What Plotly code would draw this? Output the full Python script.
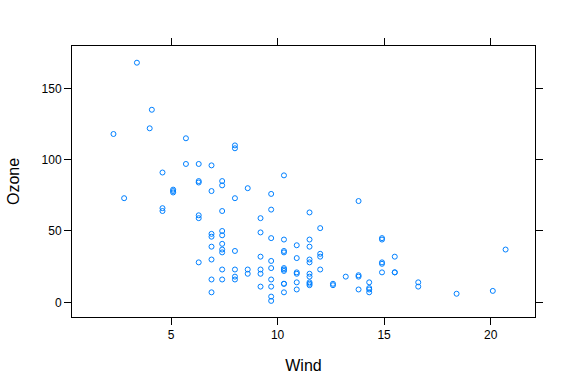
import plotly.graph_objects as go

# airquality (rows with non-missing Ozone)
wind = [7.4, 8.0, 12.6, 11.5, 14.9, 8.6, 13.8, 20.1, 6.9, 9.7, 9.2, 10.9, 13.2, 11.5,
        12.0, 18.4, 11.5, 9.7, 9.7, 16.6, 9.7, 12.0, 12.0, 14.9, 5.7, 7.4, 9.7, 13.8,
        11.5, 8.0, 14.9, 20.7, 9.2, 11.5, 10.3, 4.1, 9.2, 9.2, 4.6, 10.9, 5.1, 6.3,
        5.7, 7.4, 14.3, 14.9, 14.3, 6.9, 10.3, 6.3, 5.1, 11.5, 6.9, 8.6, 8.0, 8.6,
        12.0, 7.4, 7.4, 7.4, 9.2, 6.9, 13.8, 7.4, 6.9, 7.4, 4.6, 4.0, 10.3, 8.0,
        11.5, 11.5, 9.7, 10.3, 6.3, 7.4, 10.9, 10.3, 15.5, 14.3, 9.7, 3.4, 8.0, 9.7,
        2.3, 6.3, 6.3, 6.9, 5.1, 2.8, 4.6, 7.4, 15.5, 10.9, 10.3, 10.9, 9.7, 14.9,
        15.5, 6.3, 10.9, 11.5, 6.9, 13.8, 10.3, 10.3, 8.0, 12.6, 9.2, 10.3, 10.3,
        16.6, 6.9, 14.3, 8.0, 11.5]
ozone = [41, 36, 12, 18, 28, 23, 19, 8, 7, 16, 11, 14, 18, 14,
         34, 6, 30, 11, 1, 11, 4, 32, 23, 45, 115, 37, 29, 71,
         39, 23, 21, 37, 20, 12, 13, 135, 49, 32, 64, 40, 77, 97,
         97, 85, 10, 27, 7, 48, 35, 61, 79, 63, 16, 80, 108, 20,
         52, 82, 50, 64, 59, 39, 9, 16, 78, 35, 66, 122, 89, 110,
         44, 28, 65, 22, 59, 23, 31, 44, 21, 9, 45, 168, 73, 76,
         118, 84, 85, 96, 78, 73, 91, 47, 32, 20, 23, 21, 24, 44,
         21, 28, 9, 13, 46, 18, 13, 24, 16, 13, 23, 36, 7,
         14, 30, 14, 18, 20]

x_ticks = [5, 10, 15, 20]
y_ticks = [0, 50, 100, 150]

fig = go.Figure(go.Scatter(
    x=wind, y=ozone, mode="markers",
    marker=dict(symbol="circle-open", size=5, color="#0080ff",
                line=dict(width=1, color="#0080ff")),
    showlegend=False,
))

axis_common = dict(
    showgrid=False, zeroline=False, showline=True, linecolor="black",
    linewidth=1, mirror="allticks", ticks="outside", ticklen=7,
    tickcolor="black", tickwidth=1,
    tickfont=dict(family="Liberation Sans, Arial", size=12, color="black"),
)

fig.update_layout(
    width=574, height=388,
    margin=dict(l=72, r=39, t=46, b=71),
    paper_bgcolor="white", plot_bgcolor="white",
    font=dict(family="Liberation Sans, Arial", color="black"),
    xaxis=dict(range=[0.354, 22.08], tickvals=x_ticks,
               title=dict(text="Wind", font=dict(size=16, color="black"), standoff=18),
               **axis_common),
    yaxis=dict(range=[-10.3, 179.7], tickvals=y_ticks,
               title=dict(text="Ozone", font=dict(size=16, color="black"), standoff=17),
               **axis_common),
)

fig.write_html("out.html")
